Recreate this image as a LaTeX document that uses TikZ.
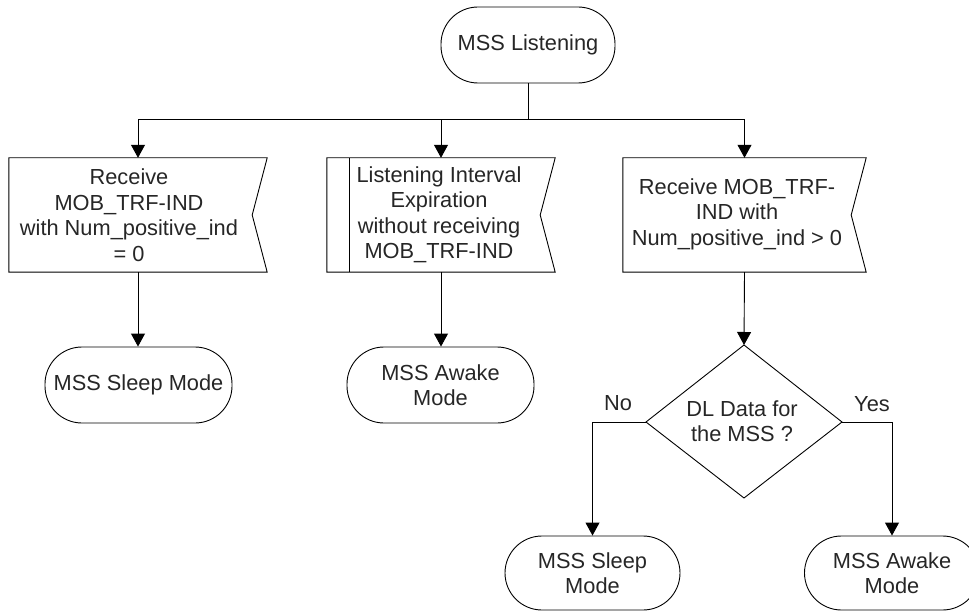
\documentclass[tikz,border=0pt]{standalone}
\usepackage{fontspec}
\setmainfont{Liberation Sans}
\usetikzlibrary{arrows.meta}
\begin{document}
\begin{tikzpicture}[x=1pt,y=-1pt,
  every node/.style={font=\fontsize{21.8}{25.5}\selectfont, text=black!85},
  line/.style={line width=0.9pt, draw=black},
  arr/.style={line, -{Triangle[length=13pt,width=14pt]}},
  term/.style={line, rounded corners=37pt, inner sep=0pt, align=center},
  shapebox/.style={rectangle, inner sep=0pt, minimum height=114pt},
  txt/.style={align=center, inner sep=0pt}
]
\useasboundingbox (0,0) rectangle (969,612);

% start terminal
\node[term, minimum width=174pt, minimum height=76pt] (listen) at (528,45) {MSS Listening};

% input boxes (shape holders)
\node[shapebox, minimum width=258pt] (b1) at (138,215) {};
\node[shapebox, minimum width=228pt] (b2) at (441,215) {};
\node[shapebox, minimum width=243pt] (b3) at (744.5,215) {};

\foreach \b in {b1,b2,b3}{
  \draw[line] (\b.north west) -- (\b.north east) -- ([xshift=-15pt]\b.east) -- (\b.south east) -- (\b.south west) -- cycle;
}
\draw[line] ([xshift=23pt]b2.north west) -- ([xshift=23pt]b2.south west);

\node[txt] (t1) at (129,215) {Receive\\MOB\_TRF-IND\\with Num\_positive\_ind\\= 0};
\node[txt] (t2) at (439,215) {Listening Interval\\Expiration\\without receiving\\MOB\_TRF-IND};
\node[txt] (t3) at (737,214) {Receive MOB\_TRF-\\IND with\\Num\_positive\_ind > 0};

% middle terminals
\node[term, minimum width=187pt, minimum height=76pt] (s1) at (138.5,385) {MSS Sleep Mode};
\node[term, minimum width=187pt, minimum height=76pt] (a1) at (440.5,385) {MSS Awake\\Mode};

% decision
\coordinate (dtop) at (744,345);
\coordinate (dright) at (842,422);
\coordinate (dbot) at (744,498);
\coordinate (dleft) at (646,422);
\draw[line] (dtop) -- (dright) -- (dbot) -- (dleft) -- cycle;
\node[txt] (dm) at (742,421) {DL Data for\\the MSS ?};

% bottom terminals
\node[term, minimum width=175pt, minimum height=74pt] (s2) at (592.5,573) {MSS Sleep\\Mode};
\node[term, minimum width=175pt, minimum height=74pt] (a2) at (892,573) {MSS Awake\\Mode};

% labels
\node[txt] (no) at (618,403) {No};
\node[txt] (yes) at (872,404) {Yes};

% connectors
\coordinate (split) at (528,119);
\draw[line] (listen.south) -- (split);
\draw[arr] (split) -| (b1.north);
\draw[arr] (split) -| (b2.north);
\draw[arr] (split) -| (b3.north);
\draw[arr] (b1.south) -- (s1.north -| b1.south);
\draw[arr] (b2.south) -- (a1.north -| b2.south);
\draw[arr] (b3.south) -- (dtop);
\draw[arr] (dleft) -| (s2.north);
\draw[arr] (dright) -| (a2.north);
\end{tikzpicture}
\end{document}
